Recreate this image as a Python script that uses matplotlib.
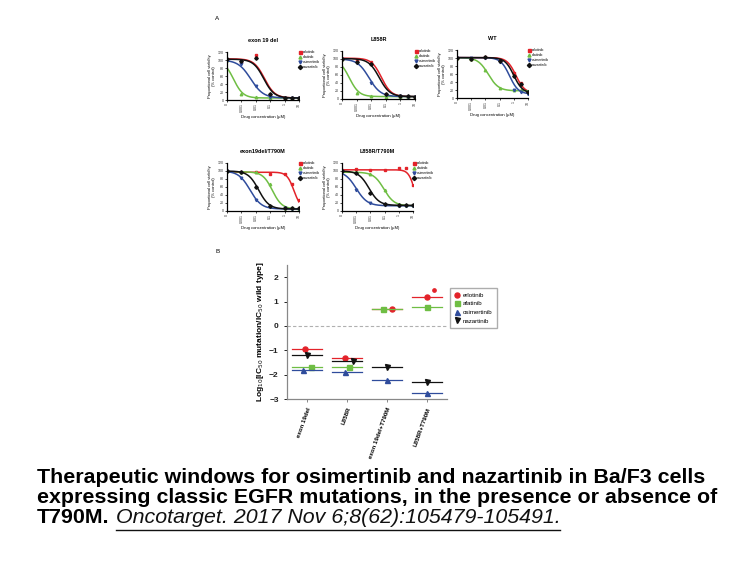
import numpy as np
import matplotlib.pyplot as plt
from matplotlib.lines import Line2D

W, H = 756, 567

drugs = ['erlotinib', 'afatinib', 'osimertinib', 'nazartinib']
colors = ['#e3232a', '#6fbe44', '#2f4c9c', '#111111']

# panel A: dose-response, log10 concentration (uM); -4 stands for "0"
dose = [-4, -3, -2, -1, 0, 0.5, 1]
dose_ticks = [-4, -3, -2, -1, 0, 1]
dose_labels = ['0', '0.001', '0.01', '0.1', '1', '10']

titles = ['exon 19 del', 'L858R', 'WT', 'exon19del/T790M', 'L858R/T790M']

# fitted curve parameters per panel, one row per drug: top, bottom, logIC50, hill
fit_ex19 = [[103, 5, -1.40, 1.2], [100, 5, -3.55, 1.3], [100, 5, -2.35, 1.0], [102, 5, -1.45, 1.2]]
fit_l858 = [[102, 6, -1.30, 1.3], [100, 6, -3.50, 1.3], [100, 6, -2.15, 1.1], [101, 6, -1.45, 1.2]]
fit_wt = [[101, 12, 0.15, 1.4], [101, 18, -1.80, 1.2], [101, 10, -0.30, 1.4], [101, 12, 0.00, 1.4]]
fit_ex19t = [[97, 5, 0.65, 1.8], [98, 5, -0.85, 1.3], [100, 5, -2.40, 1.1], [100, 5, -1.80, 1.2]]
fit_l858t = [[103, 0, 1.12, 2.0], [97, 13, -1.05, 1.2], [100, 13, -3.00, 1.1], [100, 14, -2.10, 1.2]]

# measured viability (% control) at each dose
pts_ex19 = [[101, 96, 112, 12, 6, 5, 6], [100, 14, 7, 5, 5, 5, 5],
            [100, 91, 34, 8, 5, 5, 5], [102, 98, 105, 14, 6, 6, 6]]
pts_l858 = [[100, 98, 93, 12, 7, 6, 6], [100, 14, 7, 6, 6, 6, 6],
            [100, 89, 40, 9, 7, 6, 6], [100, 92, 88, 13, 7, 7, 6]]
pts_wt = [[100, 98, 102, 94, 62, 38, 16], [100, 97, 70, 25, 20, 19, 18],
          [100, 99, 100, 90, 20, 14, 10], [100, 97, 103, 92, 55, 35, 15]]
pts_ex19t = [[100, 97, 98, 93, 92, 68, 28], [100, 97, 98, 68, 8, 7, 6],
             [100, 82, 28, 10, 7, 6, 6], [100, 97, 60, 12, 8, 7, 7]]
pts_l858t = [[103, 104, 102, 103, 108, 107, 65], [100, 97, 92, 52, 16, 15, 14],
             [100, 52, 20, 15, 13, 13, 12], [100, 95, 45, 18, 15, 14, 14]]

fits = [fit_ex19, fit_l858, fit_wt, fit_ex19t, fit_l858t]
points = [pts_ex19, pts_l858, pts_wt, pts_ex19t, pts_l858t]

# panel B: log10(IC50 mutation / IC50 wild type)
groups = ['exon 19del', 'L858R', 'exon 19del+T790M', 'L858R+T790M']
b_erl = [-0.95, -1.33, 0.71, 1.17]
b_afa = [-1.70, -1.69, 0.68, 0.76]
b_osi = [-1.81, -1.91, -2.23, -2.76]
b_naz = [-1.18, -1.46, -1.70, -2.29]
b_erl_extra = 1.49  # second erlotinib value, L858R+T790M

fig = plt.figure(figsize=(W / 100, H / 100), dpi=100)
plt.rcParams['font.family'] = ['Liberation Sans', 'DejaVu Sans']


def px_axes(l, t, r, b):
    return fig.add_axes([l / W, 1 - b / H, (r - l) / W, (b - t) / H])


def hill(x, top, bot, ic, h):
    return bot + (top - bot) / (1 + 10 ** ((x - ic) * h))


boxes = [(227, 52, 299, 100), (342, 51, 415, 99), (457, 50, 528, 98),
         (227, 163, 299, 211), (342, 163, 413, 211)]
mk = ['s', '^', 'v', 'D']
xs = np.linspace(-4, 1, 200)

for i, box in enumerate(boxes):
    ax = px_axes(*box)
    for d in range(4):
        top, bot, ic, h = fits[i][d]
        ax.plot(xs, hill(xs, top, bot, ic, h), color=colors[d], lw=1.1)
        ax.plot(dose, points[i][d], mk[d], color=colors[d], ms=1.8, ls='none',
                label=drugs[d])
    ax.set_xlim(-4, 1)
    ax.set_ylim(0, 120)
    ax.set_xticks(dose_ticks)
    ax.set_xticklabels(dose_labels, rotation=90)
    ax.set_yticks(range(0, 121, 20))
    ax.tick_params(labelsize=2.6, length=1.5, width=0.5, pad=1, labelcolor='#333333')
    for s in ['top', 'right']:
        ax.spines[s].set_visible(False)
    for s in ['left', 'bottom']:
        ax.spines[s].set_linewidth(0.9)
    ax.set_title(titles[i], fontsize=4, weight='bold', pad=7)
    ax.set_xlabel('Drug concentration (µM)', fontsize=3, labelpad=2)
    ax.set_ylabel('Proportional cell viability\n(% control)', fontsize=3, labelpad=1)
    ax.legend(loc='upper left', bbox_to_anchor=(0.95, 1.1), fontsize=2.5,
              frameon=False, handlelength=0.8, handletextpad=0.5, labelspacing=0.3,
              markerscale=1.2)

fig.text(215 / W, 1 - 20 / H, 'A', fontsize=4.5)
fig.text(215 / W, 1 - 253 / H, 'B', fontsize=4.5)

# panel B
axb = px_axes(287, 265, 447, 399)
xpos = np.arange(len(groups))
b_vals = [b_erl, b_afa, b_osi, b_naz]
b_mk = ['o', 's', '^', 'v']
jitter = [[-0.05, -0.05, 0.12, 0.0], [0.1, 0.05, -0.1, 0.0],
          [-0.1, -0.05, 0.0, 0.0], [0.0, 0.15, 0.0, 0.0]]
for d in range(4):
    for g in range(len(groups)):
        axb.plot([xpos[g] - 0.38, xpos[g] + 0.38], [b_vals[d][g]] * 2,
                 color=colors[d], lw=0.9)
    axb.plot(xpos + np.array(jitter[d]), b_vals[d], b_mk[d], color=colors[d],
             ms=3.6, ls='none', label=drugs[d])
axb.plot([xpos[3] + 0.18], [b_erl_extra], 'o', color=colors[0], ms=2.4)
axb.axhline(0, color='#b0b0b0', lw=0.8, ls=(0, (3, 2)))
axb.set_xlim(-0.5, 3.5)
axb.set_ylim(-3, 2.5)
axb.set_yticks([-3, -2, -1, 0, 1, 2])
axb.set_xticks(xpos)
axb.set_xticklabels(groups, rotation=70, ha='right', rotation_mode='anchor',
                    fontsize=4.4, weight='bold')
axb.tick_params(axis='y', labelsize=6, length=2.5, width=0.7, colors='#222222')
axb.tick_params(axis='x', length=2, width=0.7, color='#888888')
for lab in axb.get_yticklabels():
    lab.set_fontweight('bold')
for s in ['top', 'right']:
    axb.spines[s].set_visible(False)
for s in ['left', 'bottom']:
    axb.spines[s].set_color('#888888')
    axb.spines[s].set_linewidth(0.9)
axb.set_ylabel('Log$_{10}$[IC$_{50}$ mutation/IC$_{50}$ wild type]', fontsize=6,
               weight='bold', labelpad=2)
axb.legend(loc='upper left', bbox_to_anchor=(1.0, 0.85), fontsize=4.4,
           frameon=True, fancybox=False, edgecolor='#999999', handlelength=1.0,
           handletextpad=0.4, labelspacing=0.55, borderpad=0.7)

# caption
cap_kw = dict(fontsize=15.4, weight='bold', va='baseline', color='black')
x0 = 37 / W
fig.text(x0, 1 - 483 / H, 'Therapeutic windows for osimertinib and nazartinib in Ba/F3 cells', **cap_kw)
fig.text(x0, 1 - 503 / H, 'expressing classic EGFR mutations, in the presence or absence of', **cap_kw)
t1 = fig.text(x0, 1 - 523 / H, 'T790M.', **cap_kw)
fig.canvas.draw()
r = fig.canvas.get_renderer()
e1 = t1.get_window_extent(r)
t2 = fig.text((e1.x1 + 6) / W, 1 - 523 / H, 'Oncotarget. 2017 Nov 6;8(62):105479-105491.',
              fontsize=15.4, style='italic', va='baseline', color='#111111')
e2 = t2.get_window_extent(r)
fig.add_artist(Line2D([e2.x0 / W, e2.x1 / W], [1 - 530 / H] * 2, color='#111111', lw=1.0))

fig.savefig('out.png', dpi=100)
